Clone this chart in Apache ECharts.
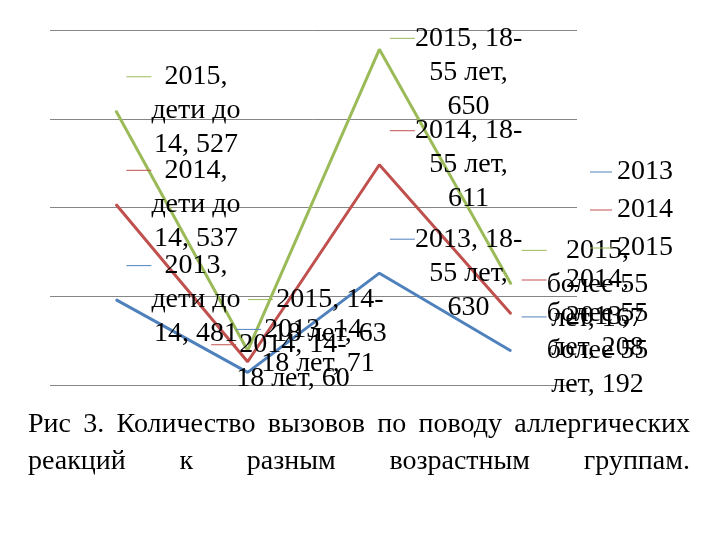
<!DOCTYPE html>
<html><head><meta charset="utf-8">
<script src="https://cdn.jsdelivr.net/npm/echarts@6/dist/echarts.min.js"></script>
<style>html,body{margin:0;padding:0;background:#fff}#c{width:720px;height:540px}</style>
</head><body><div id="c"></div>
<script>
// ---- data ----
const categories = ['дети до 14', '14-18 лет', '18-55 лет', 'более 55 лет'];
const seriesNames = ['2013', '2014', '2015'];
const values2013 = [481, 71, 630, 192];
const values2014 = [537, 60, 611, 208];
const values2015 = [527, 63, 650, 167];
const yTicks = [0, 500, 1000, 1500, 2000];
const captionLines = [
  'Рис 3. Количество вызовов по поводу аллергических',
  'реакций к разным возрастным группам.'
];

// ---- styling ----
const FONT_FAMILY = '"Liberation Serif", "Times New Roman", serif';
const FS = 28;
const LH = 34;
const colors = ['#4F81BD', '#C0504D', '#9BBB59'];
const seriesValues = [values2013, values2014, values2015];
const labelShift = {
  '2015': {1: [-10, -34], 2: [0, 23]},
  '2013': {1: [-22, -26]},
  '2014': {1: [-47, 0]}
};

const ctx = document.createElement('canvas').getContext('2d');
ctx.font = FS + 'px ' + FONT_FAMILY;
const mw = s => ctx.measureText(s).width;

function wrap(text, maxW) {
  const pieces = [];
  text.split(' ').forEach(word => {
    const parts = word.split(/(?<=-)(?=.)/);
    parts.forEach((p, i) => pieces.push({t: p, sp: i === 0}));
  });
  const lines = []; let cur = '';
  pieces.forEach(pc => {
    const cand = cur === '' ? pc.t : cur + (pc.sp ? ' ' : '') + pc.t;
    if (cur !== '' && mw(cand) > maxW) { lines.push(cur); cur = pc.t; }
    else cur = cand;
  });
  if (cur) lines.push(cur);
  return lines;
}

const graphics = [];
const capYs = [425, 462];
captionLines.forEach((line, li) => {
  const words = line.split(' ');
  const ws = words.map(mw);
  const total = ws.reduce((a, b) => a + b, 0);
  const gap = (690 - 28 - total) / (words.length - 1);
  let x = 28;
  words.forEach((w, k) => {
    graphics.push({type: 'text', x: x, y: capYs[li], silent: true,
      style: {text: w, font: FS + 'px ' + FONT_FAMILY, fill: '#000', align: 'left', verticalAlign: 'middle'}});
    x += ws[k] + gap;
  });
});

const chart = echarts.init(document.getElementById('c'), null, {renderer: 'canvas'});
chart.setOption({
  animation: false,
  backgroundColor: '#fff',
  grid: {left: 50, right: 143, top: 30, bottom: 155, containLabel: false},
  xAxis: {type: 'category', data: categories, boundaryGap: true,
    axisLine: {show: false}, axisTick: {show: false}, axisLabel: {show: false}},
  yAxis: {type: 'value', min: yTicks[0], max: yTicks[yTicks.length - 1], interval: yTicks[1] - yTicks[0],
    axisLine: {show: false}, axisTick: {show: false}, axisLabel: {show: false},
    splitLine: {lineStyle: {color: '#868686', width: 1}}},
  legend: {orient: 'vertical', left: 585, top: 153, itemGap: 10, itemWidth: 22, itemHeight: 1,
    icon: 'rect', data: seriesNames,
    textStyle: {fontFamily: FONT_FAMILY, fontSize: FS, color: '#000'}},
  graphic: graphics,
  series: seriesNames.map((name, si) => ({
    name: name, type: 'line', stack: 'total',
    data: seriesValues[si].map((v, i) => {
      const item = {value: v};
      const sh = labelShift[name] && labelShift[name][i];
      if (sh) item.label = {offset: sh};
      return item;
    }),
    symbol: 'circle', symbolSize: 1, showSymbol: true,
    lineStyle: {color: colors[si], width: 3},
    itemStyle: {color: colors[si]},
    emphasis: {disabled: true},
    label: {
      show: true, position: 'right', distance: 10,
      formatter: p => {
        const lines = wrap(p.seriesName + ', ' + p.name + ', ' + p.value, 120);
        return lines.map((l, k) => (k === 0 ? '{d|}' : '{p|}') + '{t|' + l + '}').join('\n');
      },
      rich: {
        d: {width: 25, height: 1, backgroundColor: colors[si], align: 'left', lineHeight: LH},
        p: {width: 25, height: 1, align: 'left', lineHeight: LH},
        t: {fontFamily: FONT_FAMILY, fontSize: FS, lineHeight: LH, color: '#000', align: 'center'}
      }
    }
  }))
});
</script>
</body></html>
